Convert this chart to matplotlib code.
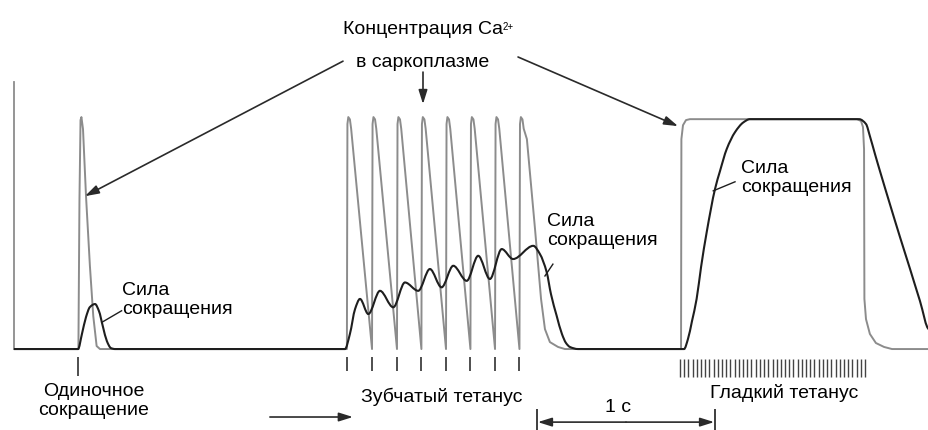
import matplotlib
matplotlib.use("Agg")
import numpy as np
import matplotlib.pyplot as plt
from matplotlib.path import Path
from matplotlib.patches import PathPatch

plt.rcParams['font.family'] = ['Liberation Sans', 'DejaVu Sans']

# время в мс, амплитуда в % от максимума
# одиночное сокращение
single_stim = [362]
single_ca_t = [0, 364, 370, 376, 381, 390, 407, 429, 448, 467, 486]
single_ca_a = [0, 0, 64.7, 98.7, 100, 94.8, 65.9, 35.8, 14.2, 1.3, 0]
single_f_t = [0, 362, 384, 407, 429, 458, 480, 503, 525, 548, 571]
single_f_a = [0, 0, 6.5, 13.8, 18.1, 19.4, 16.4, 9.5, 3.4, 0.4, 0]

# зубчатый тетанус
serr_stim = [1881, 2023, 2164, 2302, 2441, 2579, 2718, 2856]
spike_dt = [0, 3, 8, 17, 24]
spike_a = [0, 97, 100, 99, 95]
serr_tail_t = [2898, 2944, 2978, 3000, 3028, 3074, 3113]
serr_tail_a = [90.5, 51.7, 21.6, 8.6, 3.0, 0.9, 0]
serr_f_t = [1870, 1898, 1927, 1955, 2002, 2068, 2143, 2209, 2284, 2350, 2416,
            2482, 2558, 2623, 2689, 2756, 2820, 2934, 2972, 3010, 3034,
            3066, 3096, 3119, 3141, 3187]
serr_f_a = [0, 6.5, 17.2, 21.6, 15.1, 25.1, 18.0, 28.7, 25.1, 34.5, 26.6,
            35.9, 29.4, 40.2, 30.2, 43.1, 38.8, 44.5, 40.9, 33.1, 23.7,
            14.4, 6.5, 2.6, 0.9, 0]

# гладкий тетанус
smooth_stim = [3763, 3787, 3811, 3834, 3858, 3882, 3906, 3929, 3953, 3977,
               4001, 4024, 4048, 4072, 4096, 4119, 4143, 4167, 4191, 4214,
               4238, 4262, 4286, 4309, 4333, 4357, 4381, 4404, 4428, 4452,
               4476, 4499, 4523, 4547, 4571, 4594, 4618, 4642, 4666, 4689,
               4713, 4737, 4761, 4784, 4808]
smooth_ca_t = [3769, 3771, 3780, 3797, 3819, 4763, 4786, 4797, 4803, 4805, 4814, 4836, 4870, 4916, 4961, 5170]
smooth_ca_a = [0, 90.5, 96.5, 98.7, 99.1, 99.1, 98.3, 95.7, 86.2, 21.6, 12.9, 6.5, 2.6, 0.9, 0, 0]
smooth_f_t = [3786, 3808, 3831, 3857, 3882, 3914, 3961, 3989, 4027, 4074, 4121, 4158,
              4775, 4814, 4836, 4865, 4893, 4949, 5006, 5063, 5119, 5170]
smooth_f_a = [0, 4.3, 12.1, 21.6, 35.3, 50.4, 69.0, 76.7, 86.2, 93.5, 97.7, 99.1,
              99.1, 97.0, 91.8, 84.0, 76.7, 62.5, 48.3, 34.5, 20.7, 8.6]

# сборка кривых
ca_t = list(single_ca_t)
ca_a = list(single_ca_a)
for s in serr_stim:
    ca_t += [s + d for d in spike_dt]
    ca_a += spike_a
ca_t += serr_tail_t + smooth_ca_t
ca_a += serr_tail_a + smooth_ca_a

f_t = single_f_t + serr_f_t + smooth_f_t
f_a = single_f_a + serr_f_a + smooth_f_a


def smooth_path(x, y):
    # кривые Безье с монотонными касательными (как pchip)
    x = np.asarray(x, float)
    y = np.asarray(y, float)
    h = np.diff(x)
    d = np.diff(y) / h
    m = np.zeros_like(y)
    for i in range(1, len(x) - 1):
        if d[i - 1] * d[i] > 0:
            w1 = 2 * h[i] + h[i - 1]
            w2 = h[i] + 2 * h[i - 1]
            m[i] = (w1 + w2) / (w1 / d[i - 1] + w2 / d[i])
    verts = [(x[0], y[0])]
    codes = [Path.MOVETO]
    for i in range(len(x) - 1):
        verts += [(x[i] + h[i] / 3, y[i] + m[i] * h[i] / 3),
                  (x[i + 1] - h[i] / 3, y[i + 1] - m[i + 1] * h[i] / 3),
                  (x[i + 1], y[i + 1])]
        codes += [Path.CURVE4] * 3
    return Path(verts, codes)


fig = plt.figure(figsize=(9.29, 4.31), dpi=100)
ax = fig.add_axes([0, 0, 1, 1])
ax.set_xlim(-79, 5170)
ax.set_ylim(-34.9, 150.9)
ax.axis('off')

gray = '#8c8c8c'
dark = '#1e1e1e'

ax.plot([0, 0], [0, 115], color=gray, lw=1.3)
ax.plot(ca_t, ca_a, color=gray, lw=1.4, solid_joinstyle='round', zorder=2)
ax.add_patch(PathPatch(smooth_path(f_t, f_a), facecolor='none', edgecolor=dark, lw=1.5, zorder=3))

# стимулы
ax.vlines(single_stim, -11.5, -3.5, color=dark, lw=1.1)
ax.vlines(serr_stim, -9.5, -3.5, color=dark, lw=1.1)
ax.vlines(smooth_stim, -12, -4.3, color='#444444', lw=1.0)

fs = 14
title = ax.text(2311, 138, 'Концентрация Ca', fontsize=fs, ha='center', va='center')
ax.annotate('2+', xy=(1.0, 0.95), xycoords=title, fontsize=7, ha='left', va='top')
ax.text(2311, 124, 'в саркоплазме', fontsize=fs, ha='center', va='center')

arrow = dict(arrowstyle='-|>,head_length=0.7,head_width=0.22', color='#2a2a2a', lw=1.2,
             mutation_scale=12, shrinkA=0, shrinkB=0)
ax.annotate('', xy=(401, 65.9), xytext=(1859, 124.1), arrowprops=arrow)
ax.annotate('', xy=(3752, 96.1), xytext=(2848, 125.9), arrowprops=arrow)
ax.annotate('', xy=(2311, 105.6), xytext=(2311, 119.4), arrowprops=arrow)

ax.text(610, 29.3, 'Сила\nсокращения', fontsize=fs, ha='left', va='top', linespacing=1.15)
ax.text(3011, 59, 'Сила\nсокращения', fontsize=fs, ha='left', va='top', linespacing=1.15)
ax.text(4108, 81.9, 'Сила\nсокращения', fontsize=fs, ha='left', va='top', linespacing=1.15)
ax.plot([496, 608], [11.5, 16.5], color=dark, lw=1.0)
ax.plot([3000, 3045], [31.5, 36.6], color=dark, lw=1.0)
ax.plot([3951, 4074], [68.2, 72.1], color=dark, lw=1.0)

ax.text(452, -14.2, 'Одиночное\nсокращение', fontsize=fs, ha='center', va='top', linespacing=1.15)
ax.text(2416, -20.3, 'Зубчатый тетанус', fontsize=fs, ha='center', va='center')
ax.text(4351, -18.5, 'Гладкий тетанус', fontsize=fs, ha='center', va='center')
ax.annotate('', xy=(1915, -29.3), xytext=(1446, -29.3), arrowprops=arrow)

# масштаб 1 с
ax.vlines([2955, 3961], -34.9, -26, color=dark, lw=1.2)
ax.annotate('', xy=(2960, -31.5), xytext=(3458, -31.5), arrowprops=arrow)
ax.annotate('', xy=(3956, -31.5), xytext=(3458, -31.5), arrowprops=arrow)
ax.text(3413, -24.6, '1 с', fontsize=fs, ha='center', va='center')

fig.savefig('out.png', dpi=100)
